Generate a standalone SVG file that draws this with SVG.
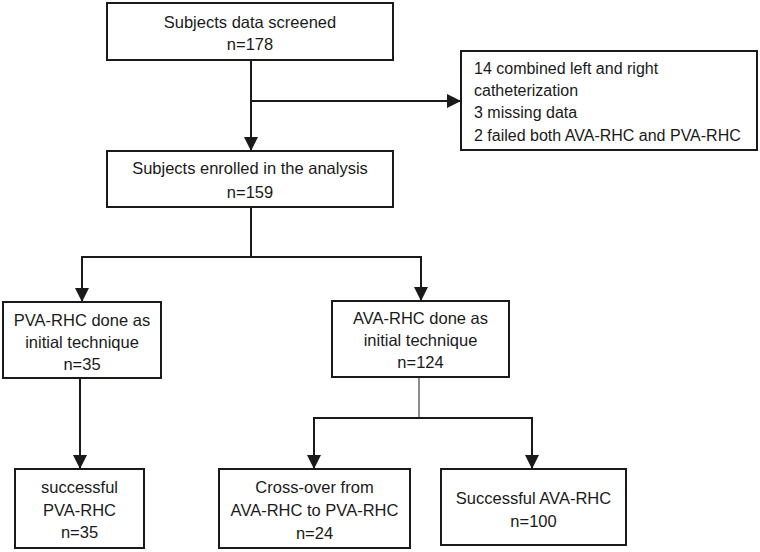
<svg xmlns="http://www.w3.org/2000/svg" width="760" height="552" viewBox="0 0 760 552">
<style>
.box{fill:#fff;stroke:#1a1a1a;stroke-width:2}
.t{font-family:"Liberation Sans",Arial,sans-serif;font-size:16.5px;fill:#1a1a1a;text-anchor:middle}
.tl{font-family:"Liberation Sans",Arial,sans-serif;font-size:16px;fill:#1a1a1a;text-anchor:start}
.c{fill:none;stroke:#1a1a1a;stroke-width:2}
.thin{fill:none;stroke:#1a1a1a;stroke-width:1}
</style>
<defs>
<marker id="ah" markerUnits="userSpaceOnUse" markerWidth="14" markerHeight="14" refX="14" refY="7" orient="auto">
<path d="M0,0 L14,7 L0,14 z" fill="#1a1a1a"/>
</marker>
</defs>
<rect width="760" height="552" fill="#fff"/>
<g id="connectors">
<path class="c" d="M251,60 V151" marker-end="url(#ah)"/>
<path class="c" d="M251,101 H461" marker-end="url(#ah)"/>
<path class="c" d="M251,207 V257 H421 V301" marker-end="url(#ah)"/>
<path class="c" d="M251,257 H82 V302" marker-end="url(#ah)"/>
<path class="c" d="M80,378 V469" marker-end="url(#ah)"/>
<path class="thin" d="M419,377 V418"/>
<path class="c" d="M419,418 H314 V469" marker-end="url(#ah)"/>
<path class="c" d="M419,418 H532 V469" marker-end="url(#ah)"/>
</g>
<g id="screened">
<rect class="box" x="107" y="3" width="286" height="57"/>
<text class="t" x="250" y="28">Subjects data screened</text>
<text class="t" x="250" y="50">n=178</text>
</g>
<g id="excluded">
<rect class="box" x="461" y="51" width="296" height="99"/>
<text class="tl" x="474" y="74">14 combined left and right</text>
<text class="tl" x="474" y="96">catheterization</text>
<text class="tl" x="474" y="118">3 missing data</text>
<text class="tl" x="474" y="141">2 failed both AVA-RHC and PVA-RHC</text>
</g>
<g id="enrolled">
<rect class="box" x="107" y="151" width="286" height="56"/>
<text class="t" x="250" y="174">Subjects enrolled in the analysis</text>
<text class="t" x="250" y="198">n=159</text>
</g>
<g id="pva">
<rect class="box" x="3" y="302" width="158" height="76"/>
<text class="t" x="82" y="326">PVA-RHC done as</text>
<text class="t" x="82" y="348">initial technique</text>
<text class="t" x="82" y="370">n=35</text>
</g>
<g id="ava">
<rect class="box" x="332" y="301" width="177" height="76"/>
<text class="t" x="420.5" y="324">AVA-RHC done as</text>
<text class="t" x="420.5" y="346">initial technique</text>
<text class="t" x="420.5" y="368">n=124</text>
</g>
<g id="succ-pva">
<rect class="box" x="15" y="469" width="129" height="79"/>
<text class="t" x="79.5" y="493">successful</text>
<text class="t" x="79.5" y="516">PVA-RHC</text>
<text class="t" x="79.5" y="538">n=35</text>
</g>
<g id="crossover">
<rect class="box" x="219" y="469" width="191" height="79"/>
<text class="t" x="314.5" y="493">Cross-over from</text>
<text class="t" x="314.5" y="516">AVA-RHC to PVA-RHC</text>
<text class="t" x="314.5" y="539">n=24</text>
</g>
<g id="succ-ava">
<rect class="box" x="441" y="469" width="185" height="76"/>
<text class="t" x="533.5" y="504">Successful AVA-RHC</text>
<text class="t" x="533.5" y="527">n=100</text>
</g>
</svg>
